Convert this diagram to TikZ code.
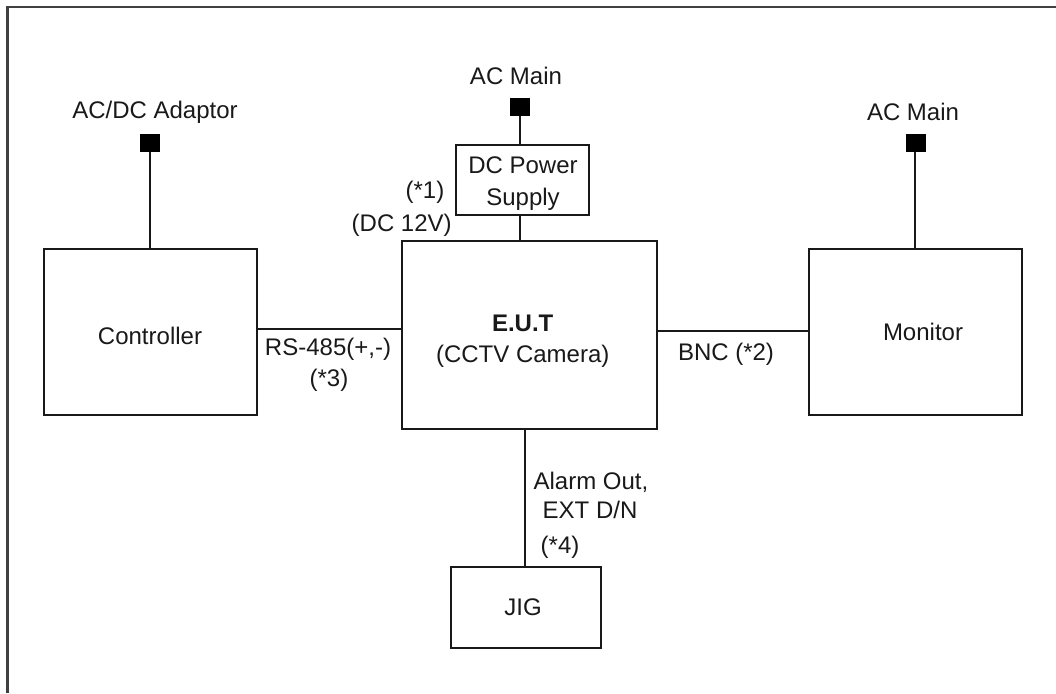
\documentclass[tikz,border=0pt]{standalone}
\usepackage{fontspec}
\setmainfont{Liberation Sans}
\begin{document}
\begin{tikzpicture}[x=1pt,y=-1pt,
  box/.style={draw=black!90, line width=2pt, minimum width=#1, inner sep=0pt},
  plug/.style={fill=black, draw=black, line width=0.5pt, minimum width=19pt, minimum height=17pt, inner sep=0pt},
  lbl/.style={anchor=base, inner sep=0pt, font=\fontsize{24}{29}\selectfont, text=black!90},
  wire/.style={line width=2pt, draw=black!90}]
\useasboundingbox (0,0) rectangle (1056,693);
% frame (top and left edges)
\coordinate (ftr) at (1056,7);
\coordinate (ftl) at (7.5,7);
\coordinate (fbl) at (7.5,693);
\draw[line width=2.4pt, draw=black!75] (ftr) -- (ftl) -- (fbl);

% boxes
\node[box=213pt, minimum height=166pt] (ctrl) at (150,332) {};
\node[box=255pt, minimum height=188pt] (eut) at (529.8,335) {};
\node[box=212.5pt, minimum height=166pt] (mon) at (915.5,332) {};
\node[box=133pt, minimum height=70pt] (dcps) at (522.7,180) {};
\node[box=150pt, minimum height=80.5pt] (jig) at (525.9,607.5) {};

% plugs
\node[plug] (p1) at (149.5,143) {};
\node[plug] (p2) at (520,107) {};
\node[plug] (p3) at (915.3,143) {};

% texts
\node[lbl] (t1) at (155,118) {AC/DC Adaptor};
\node[lbl] (t2) at (516,84) {AC Main};
\node[lbl] (t3) at (913,120) {AC Main};
\node[lbl] (t4) at (523,173.3) {DC Power};
\node[lbl] (t5) at (523,205) {Supply};
\node[lbl] (t6) at (425,198.3) {(*1)};
\node[lbl] (t7) at (401.7,231.7) {(DC 12V)};
\node[lbl] (t8) at (522.7,331.7) {\bfseries E.U.T};
\node[lbl] (t9) at (522.7,362.3) {(CCTV Camera)};
\node[lbl] (t10) at (328,355) {RS-485(+,-)};
\node[lbl] (t11) at (329,386.7) {(*3)};
\node[lbl] (t12) at (150,344) {Controller};
\node[lbl] (t13) at (923,340) {Monitor};
\node[lbl] (t14) at (726,360) {BNC (*2)};
\node[lbl] (t15) at (591,489.3) {Alarm Out,};
\node[lbl] (t16) at (590,518.3) {EXT D/N};
\node[lbl] (t17) at (560,553.3) {(*4)};
\node[lbl] (t18) at (523,615) {JIG};

% wires
\draw[wire] (p1.south) -- (p1.south |- ctrl.north);
\draw[wire] (p3.south) -- (p3.south |- mon.north);
\draw[wire] (p2.south) -- (p2.south |- dcps.north);
\draw[wire] (dcps.south -| p2.south) -- (p2.south |- eut.north);
\draw[wire] (ctrl.east |- {(0,329)}) -- (eut.west |- {(0,329)});
\draw[wire] (eut.east |- {(0,331)}) -- (mon.west |- {(0,331)});
\draw[wire] (eut.south -| {(525,0)}) -- (jig.north -| {(525,0)});
\end{tikzpicture}
\end{document}
